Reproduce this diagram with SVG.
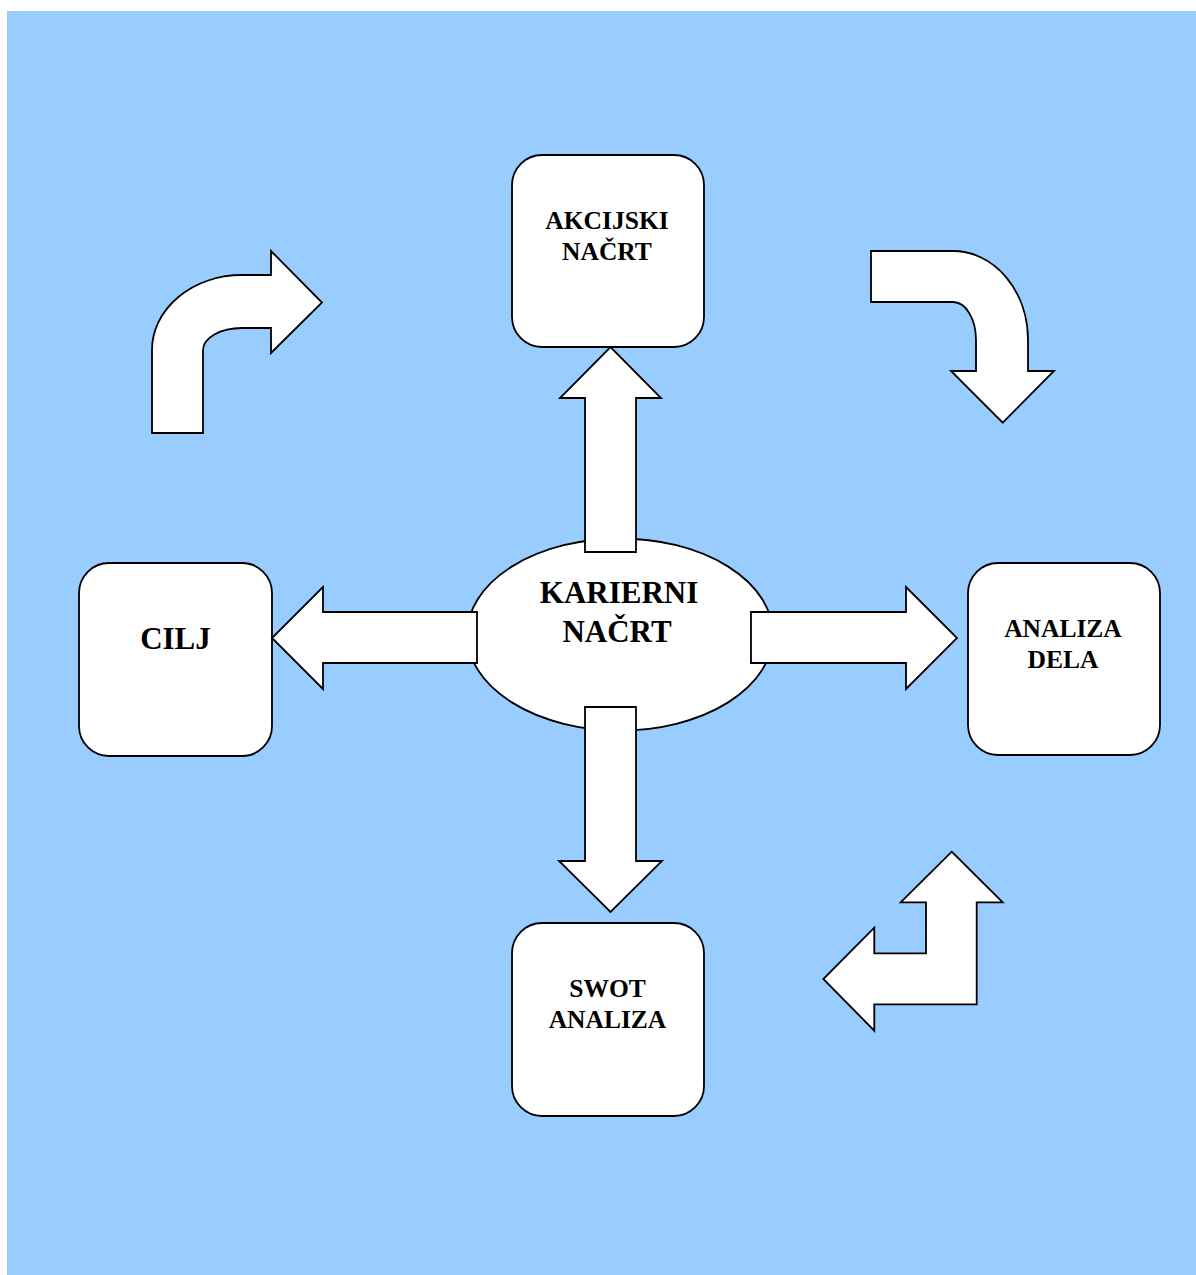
<svg xmlns="http://www.w3.org/2000/svg" width="1196" height="1275" viewBox="0 0 1196 1275">
  <style>
    .shape { fill: #ffffff; stroke: #000000; stroke-width: 1.8; stroke-linejoin: miter; }
    .box { fill: #ffffff; stroke: #000000; stroke-width: 1.8; }
    .lbl { font-family: "Liberation Serif", "Times New Roman", serif; font-weight: bold; fill: #000000; text-anchor: middle; }
    .sm { font-size: 25.5px; }
    .lg { font-size: 31px; }
  </style>

  <!-- backdrop -->
  <rect x="7" y="11" width="1189" height="1264" fill="#99CCFF"/>

  <!-- centre node -->
  <g id="karierni-nacrt">
    <ellipse class="shape" cx="620" cy="634.5" rx="153" ry="96"/>
    <text class="lbl lg" x="619" y="603">KARIERNI</text>
    <text class="lbl lg" x="617" y="642">NAČRT</text>
  </g>

  <!-- outer nodes -->
  <g id="akcijski-nacrt">
    <rect class="box" x="512" y="155" width="192" height="192" rx="30" ry="30"/>
    <text class="lbl sm" x="607" y="229">AKCIJSKI</text>
    <text class="lbl sm" x="607" y="260">NAČRT</text>
  </g>

  <g id="cilj">
    <rect class="box" x="79" y="563" width="193" height="193" rx="30" ry="30"/>
    <text class="lbl lg" x="175.5" y="649">CILJ</text>
  </g>

  <g id="analiza-dela">
    <rect class="box" x="968" y="563" width="192" height="192" rx="30" ry="30"/>
    <text class="lbl sm" x="1063" y="637">ANALIZA</text>
    <text class="lbl sm" x="1063" y="668">DELA</text>
  </g>

  <g id="swot-analiza">
    <rect class="box" x="512" y="923" width="192" height="193" rx="30" ry="30"/>
    <text class="lbl sm" x="607.5" y="997">SWOT</text>
    <text class="lbl sm" x="607.5" y="1028">ANALIZA</text>
  </g>

  <!-- block arrows from the centre to each node -->
  <g id="connectors">
    <path class="shape" d="M 585 552 L 585 398 L 560 398 L 610.5 347 L 661 398 L 636 398 L 636 552 Z"/>
    <path class="shape" d="M 585 707 L 636 707 L 636 861 L 662 861 L 610.5 912 L 559 861 L 585 861 Z"/>
    <path class="shape" d="M 477 612 L 323 612 L 323 587 L 272 638 L 323 689 L 323 663 L 477 663 Z"/>
    <path class="shape" d="M 751 612 L 906 612 L 906 587 L 957 638 L 906 689 L 906 663 L 751 663 Z"/>
  </g>

  <!-- cycle arrows between the outer nodes -->
  <g id="cycle-arrows">
    <path class="shape" d="M 152 433 L 152 350 A 90 75 0 0 1 242 275 L 271 275 L 271 251 L 322 302.5 L 271 353 L 271 328 L 242 328 A 39 22 0 0 0 203 350 L 203 433 Z"/>
    <path class="shape" d="M 871 251 L 953 251 A 75 89 0 0 1 1028 340 L 1028 371 L 1054 371 L 1002.7 422.7 L 951 371 L 976 371 L 976 340 A 23 38 0 0 0 953 302 L 871 302 Z"/>
    <path class="shape" d="M 951.7 851.7 L 1002.7 902.3 L 976.7 902.3 L 976.7 1004.3 L 874.3 1004.3 L 874.3 1030.7 L 823.3 979 L 874.3 927.7 L 874.3 953.3 L 926 953.3 L 926 902.3 L 900.7 902.3 Z"/>
  </g>
</svg>
